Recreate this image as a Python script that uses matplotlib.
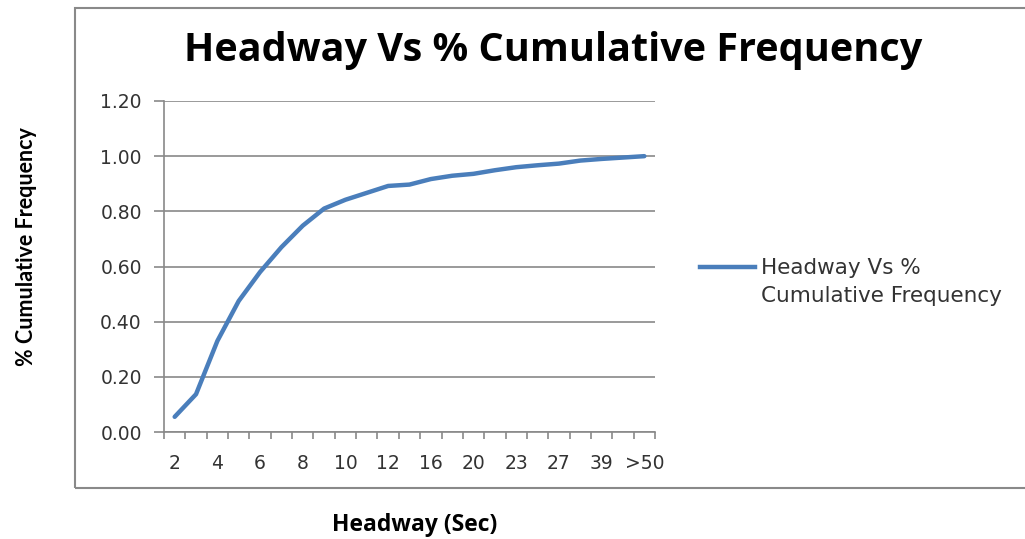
import numpy as np
import matplotlib
matplotlib.use("Agg")
from matplotlib import pyplot as plt
from matplotlib.lines import Line2D
from matplotlib.patches import Rectangle

# headway categories (sec); only every other one is labelled on the axis
categories = ['2', '3', '4', '5', '6', '7', '8', '9', '10', '11', '12', '14',
              '16', '18', '20', '22', '23', '25', '27', '33', '39', '45', '>50']
cum_freq = [0.055, 0.137, 0.33, 0.475, 0.58, 0.67, 0.748, 0.81, 0.842, 0.867,
            0.892, 0.897, 0.917, 0.929, 0.936, 0.949, 0.96, 0.967, 0.973,
            0.984, 0.99, 0.995, 1.0]
y_ticks = [0.0, 0.2, 0.4, 0.6, 0.8, 1.0, 1.2]

title = 'Headway Vs % Cumulative Frequency'
series_name = 'Headway Vs %\nCumulative Frequency'

line_color = '#4a7ebb'
grid_color = '#898989'
text_color = '#333333'

fig = plt.figure(figsize=(10.25, 5.39), dpi=100)
fig.patch.set_facecolor('white')

# outer chart frame (right edge is cut off in the reference)
fig.add_artist(Rectangle((75 / 1025, 1 - 488 / 539), 1.2, (488 - 8) / 539,
                         transform=fig.transFigure, fill=False,
                         edgecolor=grid_color, lw=1.5))

ax = fig.add_axes([164 / 1025, 1 - 432 / 539, 491 / 1025, 331 / 539])
x = np.arange(len(categories))
ax.plot(x, cum_freq, color=line_color, lw=3.2, solid_capstyle='round',
        solid_joinstyle='round', zorder=3)

ax.set_xlim(-0.5, len(categories) - 0.5)
ax.set_ylim(0, 1.2)
ax.set_yticks(y_ticks)
ax.set_yticklabels(['%.2f' % v for v in y_ticks])
ax.yaxis.grid(True, color=grid_color, lw=1.2)
ax.set_axisbelow(True)

# boundary ticks (unlabelled) + labels on every other category
ax.set_xticks(np.arange(-0.5, len(categories), 1))
ax.set_xticklabels([])
ax.set_xticks(x[::2], minor=True)
ax.set_xticklabels(categories[::2], minor=True)
ax.tick_params(axis='x', which='major', length=5, color=grid_color, width=1.2)
ax.tick_params(axis='x', which='minor', length=0, pad=16,
               labelsize=13.5, labelcolor=text_color)
ax.tick_params(axis='y', length=7, color=grid_color, width=1.2, pad=9,
               labelsize=13.5, labelcolor=text_color)

for side in ['top', 'right']:
    ax.spines[side].set_visible(False)
for side in ['left', 'bottom']:
    ax.spines[side].set_color(grid_color)
    ax.spines[side].set_linewidth(1.2)

fig.text(553 / 1025, 1 - 51 / 539, title, ha='center', va='center',
         family='Open Sans', fontweight='bold', fontsize=28.5)
fig.text(415 / 1025, 1 - 525 / 539, 'Headway (Sec)', ha='center', va='center',
         family='Open Sans', fontweight='bold', fontsize=16.5)
fig.text(27 / 1025, 1 - 247 / 539, '% Cumulative Frequency', ha='center',
         va='center', rotation=90, family='Lato', fontweight='bold',
         fontsize=15.5)

# legend drawn by hand so the key lines up with the first text line
fig.add_artist(Line2D([700 / 1025, 755 / 1025], [1 - 267 / 539, 1 - 267 / 539],
                      transform=fig.transFigure, color=line_color, lw=3.2))
fig.text(761 / 1025, 1 - 268 / 539, series_name.split('\n')[0], ha='left',
         va='center', fontsize=15.5, color=text_color)
fig.text(761 / 1025, 1 - 296 / 539, series_name.split('\n')[1], ha='left',
         va='center', fontsize=15.5, color=text_color)

fig.savefig('out.png', dpi=100)
